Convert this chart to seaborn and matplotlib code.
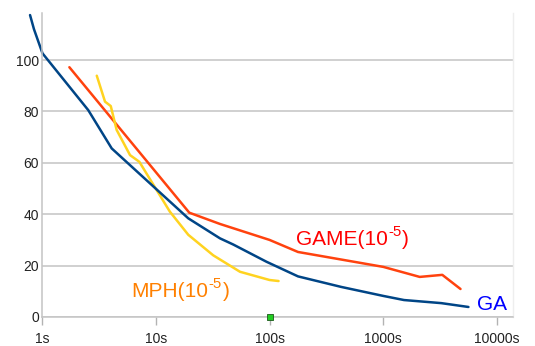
import matplotlib
matplotlib.use("Agg")
import matplotlib.pyplot as plt
from matplotlib.transforms import offset_copy
import seaborn as sns
import pandas as pd

# ---- data ----
ga_time = [0.785, 0.85, 1.01, 2.55, 4.1, 19.3, 36.7, 48, 94, 178, 427, 1000, 1520, 3230, 5600]
ga_value = [117.5, 112, 102.6, 80.5, 65.6, 38.4, 30.6, 28.2, 21.5, 15.8, 11.7, 8.2, 6.6, 5.4, 3.9]

game_time = [1.74, 19.7, 36.7, 100, 178, 1000, 2090, 3300, 4770]
game_value = [97.2, 40.6, 36.2, 30, 25.3, 19.5, 15.6, 16.4, 10.9]

mph_time = [3.03, 3.58, 4.02, 4.53, 5.94, 7.17, 13.3, 19.3, 32, 55, 100, 120]
mph_value = [93.9, 83.8, 82.1, 72.8, 63, 60.4, 41, 32, 24, 17.6, 14.4, 14]

marker_time = [100]
marker_value = [0]

x_ticks = [1, 10, 100, 1000, 10000]
x_tick_labels = ["1s", "10s", "100s", "1000s", "10000s"]
y_ticks = [0, 20, 40, 60, 80, 100]

# ---- style ----
sns.set_style("white")
plt.rcParams["font.family"] = ["Liberation Sans", "DejaVu Sans"]

fig = plt.figure(figsize=(5.35, 3.46), dpi=100)
ax = fig.add_axes([42 / 535, 1 - 317 / 346, (513 - 42) / 535, (317 - 13) / 346])

df_ga = pd.DataFrame({"t": ga_time, "v": ga_value})
df_game = pd.DataFrame({"t": game_time, "v": game_value})
df_mph = pd.DataFrame({"t": mph_time, "v": mph_value})

sns.lineplot(data=df_game, x="t", y="v", ax=ax, color="#ff420e", linewidth=1.8,
             sort=False, estimator=None)
sns.lineplot(data=df_mph, x="t", y="v", ax=ax, color="#ffd320", linewidth=1.8,
             sort=False, estimator=None)
sns.lineplot(data=df_ga, x="t", y="v", ax=ax, color="#004586", linewidth=1.8,
             sort=False, estimator=None)
ax.lines[-1].set_clip_on(False)

sns.scatterplot(x=marker_time, y=marker_value, ax=ax, marker="s", s=16,
                color="#22cc22", edgecolor="#1a5a1a", linewidth=0.6, zorder=5,
                clip_on=False)

ax.set_xscale("log")
ax.set_xlim(1, 10 ** 4.14)
ax.set_ylim(0, 118.3)

ax.set_xticks(x_ticks)
ax.set_xticklabels(x_tick_labels)
ax.xaxis.set_minor_locator(matplotlib.ticker.NullLocator())
ax.set_yticks(y_ticks)
ax.set_yticklabels([str(v) for v in y_ticks])

ax.tick_params(axis="x", which="major", length=6, width=1, color="#b3b3b3",
               direction="out", pad=5, labelsize=10, labelcolor="#222222", bottom=True)
ax.tick_params(axis="y", which="major", length=0, pad=2, labelsize=10, labelcolor="#222222")

ax.grid(axis="y", color="#c4c4c4", linewidth=1.1)
ax.grid(axis="x", visible=False)
ax.set_axisbelow(True)

for side in ["left", "bottom"]:
    ax.spines[side].set_color("#c4c4c4")
    ax.spines[side].set_linewidth(1.1)
ax.spines["top"].set_visible(False)
ax.spines["right"].set_color("#eeeeee")
ax.spines["right"].set_linewidth(1)

ax.set_xlabel("")
ax.set_ylabel("")

fig.canvas.draw()
renderer = fig.canvas.get_renderer()


def label_with_exp(x, y, base, exp, color, size=15):
    t1 = ax.text(x, y, base, color=color, fontsize=size, ha="left", va="baseline")
    w1 = t1.get_window_extent(renderer).width * 72 / fig.dpi
    tr2 = offset_copy(ax.transData, fig=fig, x=w1 + 0.4, y=size * 0.42, units="points")
    t2 = ax.text(x, y, exp, color=color, fontsize=size * 0.72, ha="left",
                 va="baseline", transform=tr2)
    w2 = t2.get_window_extent(renderer).width * 72 / fig.dpi
    tr3 = offset_copy(ax.transData, fig=fig, x=w1 + 0.4 + w2 + 0.6, y=0, units="points")
    ax.text(x, y, ")", color=color, fontsize=size, ha="left", va="baseline", transform=tr3)


label_with_exp(170, 28.0, "GAME(10", "-5", "#ff0000")
label_with_exp(6.05, 7.8, "MPH(10", "-5", "#ff8000")
ax.text(6670, 2.7, "GA", color="#0000ff", fontsize=15, ha="left", va="baseline",
        clip_on=False)

fig.savefig("out.png", dpi=100)
